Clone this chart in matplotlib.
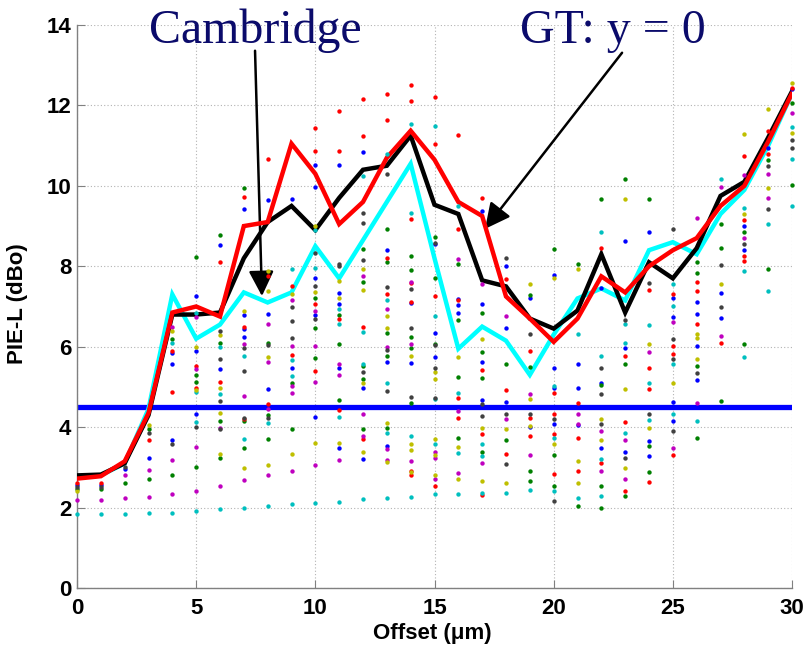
import numpy as np
import matplotlib
matplotlib.use("Agg")
import matplotlib.pyplot as plt
from matplotlib.font_manager import FontProperties

# Offsets (um) and the three summary curves
offset = list(range(31))
pie_black = [2.8, 2.82, 3.1, 4.3, 6.8, 6.8, 6.85, 8.2, 9.1, 9.5, 8.9, 9.7, 10.4, 10.5, 11.25, 9.53,
             9.3, 7.65, 7.5, 6.7, 6.45, 6.9, 8.3, 6.85, 8.1, 7.7, 8.45, 9.75, 10.1, 11.2, 12.35]
pie_red = [2.72, 2.78, 3.15, 4.35, 6.85, 7.0, 6.75, 9.0, 9.1, 11.05, 10.3, 9.05, 9.6, 10.7, 11.37, 10.65,
           9.6, 9.25, 7.25, 6.7, 6.12, 6.7, 7.75, 7.35, 8.0, 8.4, 8.7, 9.5, 10.0, 11.1, 12.3]
pie_cyan = [2.75, 2.8, 3.1, 4.45, 7.3, 6.2, 6.55, 7.35, 7.1, 7.35, 8.5, 7.7, 8.65, 9.6, 10.55, 8.2,
            5.95, 6.5, 6.15, 5.3, 6.3, 7.2, 7.45, 7.15, 8.4, 8.6, 8.3, 9.3, 9.9, 11.0, 12.3]
threshold = 4.5

# individual runs, grouped by plot colour: (offset, PIE-L)
pts_b = [(0, 2.55), (1, 2.55), (2, 2.95), (3, 3.23), (4, 5.85), (4, 5.57), (4, 3.68), (5, 7.25), (5, 5.9),
         (5, 4.33), (6, 8.53), (6, 5.45), (7, 9.42), (7, 6.79), (7, 6.44), (7, 6.24), (8, 9.65), (8, 6.81),
         (8, 4.95), (9, 9.68), (9, 5.48), (10, 10.52), (10, 9.98), (10, 7.7), (10, 6.8), (10, 4.26),
         (11, 10.52), (11, 7.34), (11, 7.05), (11, 5.48), (11, 3.47), (12, 10.85), (12, 4.98), (12, 3.2),
         (13, 8.41), (13, 5.62), (13, 3.53), (14, 7.08), (14, 5.6), (15, 8.56), (15, 6.34), (15, 5.75),
         (16, 7.19), (16, 7.04), (16, 6.84), (17, 9.38), (17, 7.06), (17, 5.62), (17, 4.68), (18, 8.01),
         (18, 6.47), (18, 4.63), (19, 7.21), (19, 4.0), (20, 7.79), (20, 5.48), (20, 4.98), (20, 4.08),
         (21, 5.57), (21, 4.98), (21, 4.05), (22, 7.46), (22, 5.1), (22, 3.48), (23, 8.63), (23, 5.97),
         (23, 3.38), (24, 8.86), (24, 3.66), (24, 3.28), (25, 7.21), (25, 6.74), (25, 4.63), (25, 4.15),
         (26, 7.11), (26, 6.81), (26, 6.02), (26, 5.17), (27, 7.34), (27, 6.72), (28, 9.0), (28, 8.4),
         (29, 10.95), (30, 12.4)]
pts_g = [(0, 2.45), (1, 2.45), (2, 2.6), (3, 3.95), (3, 2.7), (4, 6.2), (4, 2.8), (5, 8.24), (5, 5.3),
         (5, 5.12), (5, 3.0), (6, 8.78), (6, 6.1), (6, 4.15), (6, 3.24), (7, 9.95), (7, 4.15), (7, 3.47),
         (8, 6.1), (8, 4.3), (8, 3.7), (9, 5.1), (9, 3.95), (10, 7.2), (10, 6.47), (10, 5.72), (11, 6.8),
         (11, 6.07), (11, 4.68), (12, 8.43), (12, 7.61), (12, 5.52), (12, 5.2), (12, 3.96), (13, 8.93),
         (13, 8.11), (13, 6.34), (13, 5.77), (13, 3.98), (14, 8.26), (14, 7.91), (14, 6.24), (14, 5.97),
         (14, 4.6), (15, 8.73), (15, 7.71), (15, 6.07), (16, 8.06), (16, 6.67), (16, 5.25), (16, 3.73),
         (17, 6.84), (17, 5.87), (17, 5.22), (17, 3.38), (18, 5.57), (18, 3.68), (19, 7.29), (19, 5.5),
         (19, 2.91), (19, 2.66), (20, 8.43), (20, 3.31), (20, 2.54), (21, 8.06), (21, 2.04), (22, 9.68),
         (22, 5.05), (22, 2.54), (22, 2.0), (23, 10.17), (23, 5.57), (23, 2.29), (24, 9.68), (24, 3.53),
         (24, 2.89), (26, 8.11), (26, 7.84), (26, 5.52), (26, 3.73), (27, 9.05), (27, 8.46), (27, 4.65),
         (28, 8.85), (28, 6.07), (29, 10.65), (29, 7.94), (30, 12.06), (30, 10.02)]
pts_r = [(0, 2.6), (1, 2.6), (3, 3.68), (4, 5.9), (4, 4.88), (5, 5.52), (5, 4.98), (6, 8.1), (6, 5.13),
         (7, 9.73), (7, 6.5), (7, 4.2), (8, 10.67), (8, 7.75), (8, 4.58), (9, 7.5), (9, 5.8), (10, 11.44),
         (10, 10.87), (10, 7.05), (10, 5.4), (11, 11.87), (11, 10.87), (11, 6.7), (11, 4.43), (12, 12.16),
         (12, 11.24), (12, 6.49), (12, 3.7), (13, 12.29), (13, 11.64), (13, 8.21), (13, 7.31), (14, 12.51),
         (14, 12.11), (14, 9.18), (14, 7.58), (14, 7.11), (14, 2.91), (14, 2.81), (15, 12.21), (15, 11.04),
         (15, 7.26), (15, 2.54), (16, 11.27), (16, 8.93), (16, 7.15), (16, 4.73), (16, 4.23), (17, 9.7),
         (17, 5.42), (17, 3.83), (17, 2.31), (18, 7.69), (18, 4.93), (18, 3.33), (19, 5.9), (19, 4.23),
         (19, 3.78), (20, 4.85), (20, 4.33), (20, 3.83), (20, 2.84), (21, 4.6), (21, 3.73), (21, 2.91),
         (22, 8.46), (22, 3.11), (23, 5.77), (23, 4.13), (23, 2.41), (24, 7.41), (24, 5.48), (24, 4.95),
         (24, 2.64), (25, 7.31), (25, 6.02), (25, 5.82), (25, 3.31), (26, 7.61), (26, 7.39), (26, 6.57),
         (27, 6.1), (28, 10.75), (28, 9.15), (28, 8.25), (28, 8.13), (29, 11.37), (29, 10.8), (30, 12.44)]
pts_c = [(0, 1.85), (1, 1.85), (2, 1.85), (3, 1.87), (4, 6.1), (4, 1.87), (5, 6.85), (5, 4.88), (5, 4.13),
         (5, 1.92), (6, 6.0), (6, 4.82), (6, 1.96), (7, 5.77), (7, 3.7), (7, 2.0), (8, 4.1), (8, 2.04),
         (9, 7.94), (9, 5.67), (9, 5.27), (9, 2.09), (10, 8.9), (10, 7.96), (10, 2.11), (11, 6.95),
         (11, 6.57), (11, 4.25), (11, 2.14), (12, 10.25), (12, 6.37), (12, 5.57), (12, 2.21), (13, 10.8),
         (13, 7.16), (13, 5.1), (13, 3.86), (13, 2.24), (14, 11.54), (14, 9.33), (14, 3.78), (14, 2.26),
         (15, 11.49), (15, 6.77), (15, 4.7), (15, 3.58), (15, 2.34), (16, 9.5), (16, 4.85), (16, 3.36),
         (16, 2.34), (17, 3.58), (17, 3.28), (17, 2.36), (18, 2.36), (19, 2.44), (20, 5.02), (20, 3.73),
         (20, 2.41), (21, 6.32), (21, 2.24), (22, 8.86), (22, 5.77), (22, 3.21), (22, 2.29), (23, 6.57),
         (23, 6.1), (23, 3.86), (24, 6.54), (24, 5.1), (24, 4.18), (25, 7.56), (25, 7.01), (25, 5.57),
         (25, 4.33), (26, 4.15), (27, 10.17), (28, 9.45), (28, 7.89), (28, 5.75), (29, 9.05), (29, 7.39),
         (30, 11.47), (30, 10.67), (30, 9.5)]
pts_m = [(0, 2.2), (1, 2.2), (2, 2.8), (2, 2.23), (3, 2.93), (3, 2.27), (4, 6.5), (4, 3.18), (4, 2.33),
         (5, 6.75), (5, 5.45), (5, 3.5), (5, 2.42), (6, 3.98), (6, 2.54), (7, 6.07), (7, 4.78), (7, 2.68),
         (8, 6.57), (8, 5.62), (8, 4.45), (8, 2.8), (9, 7.15), (9, 6.02), (9, 5.02), (9, 4.85), (9, 2.91),
         (10, 6.9), (10, 6.02), (10, 5.13), (10, 3.06), (11, 5.57), (11, 5.3), (11, 3.18), (12, 7.76),
         (12, 4.33), (12, 3.78), (13, 6.94), (13, 5.99), (13, 3.46), (13, 3.18), (14, 7.61), (14, 6.07),
         (14, 3.16), (15, 3.38), (15, 3.24), (15, 2.71), (16, 8.18), (16, 4.4), (16, 2.86), (17, 7.56),
         (17, 3.11), (18, 6.77), (18, 4.2), (19, 4.83), (19, 3.31), (21, 4.33), (21, 4.08), (22, 3.91),
         (22, 2.91), (23, 3.68), (23, 2.71), (24, 5.87), (25, 6.62), (25, 3.48), (26, 9.2), (26, 4.6),
         (27, 9.98), (27, 6.27), (28, 10.27), (28, 8.7), (29, 10.3), (29, 9.7), (30, 11.82)]
pts_y = [(0, 2.4), (3, 4.05), (4, 6.4), (5, 6.0), (5, 4.92), (6, 6.3), (6, 4.98), (6, 4.36), (6, 3.33),
         (7, 6.9), (7, 2.98), (8, 7.88), (8, 7.38), (8, 5.75), (8, 3.06), (9, 7.3), (9, 3.34), (10, 9.0),
         (10, 7.35), (10, 3.6), (11, 7.64), (11, 7.2), (11, 3.6), (12, 7.94), (12, 7.41), (12, 5.1),
         (12, 3.38), (13, 6.77), (13, 6.47), (13, 4.1), (13, 3.13), (14, 5.77), (14, 3.58), (14, 3.43),
         (14, 2.88), (15, 5.37), (15, 5.2), (15, 3.7), (15, 3.3), (15, 2.81), (16, 5.75), (16, 3.51),
         (16, 2.71), (17, 6.19), (17, 3.98), (17, 2.66), (18, 3.96), (18, 2.61), (19, 7.56), (19, 4.7),
         (19, 4.03), (20, 7.71), (20, 3.58), (21, 7.94), (21, 3.16), (21, 2.61), (22, 4.2), (22, 3.68),
         (23, 9.68), (23, 4.95), (23, 2.98), (24, 6.07), (24, 3.98), (25, 5.1), (26, 6.32), (26, 6.22),
         (26, 5.7), (27, 7.56), (28, 11.29), (28, 9.3), (29, 11.92), (29, 9.95), (30, 12.56), (30, 11.32)]
pts_k = [(0, 2.5), (1, 2.5), (2, 3.0), (3, 3.85), (4, 3.58), (5, 4.0), (6, 6.4), (6, 5.7), (6, 4.65),
         (6, 3.95), (7, 5.97), (7, 5.4), (7, 4.23), (8, 6.05), (8, 4.23), (9, 7.0), (9, 6.64), (9, 6.22),
         (10, 8.33), (10, 7.5), (10, 6.7), (11, 8.06), (11, 8.0), (12, 9.33), (12, 9.08), (12, 8.16),
         (12, 5.37), (13, 10.3), (13, 7.49), (13, 5.92), (13, 4.9), (14, 7.44), (14, 6.47), (14, 4.75),
         (15, 8.58), (15, 6.05), (15, 5.48), (15, 4.73), (17, 4.58), (17, 4.28), (18, 8.21), (18, 4.33),
         (18, 3.08), (19, 6.32), (19, 4.33), (20, 4.2), (20, 2.16), (22, 5.48), (22, 4.83), (22, 4.08),
         (23, 6.67), (23, 3.24), (24, 7.59), (24, 4.33), (25, 8.93), (25, 6.19), (25, 5.7), (25, 3.91),
         (26, 5.35), (27, 8.03), (27, 6.99), (28, 8.55), (29, 10.5), (29, 9.43), (30, 11.14), (30, 10.95)]

# old-style MATLAB line colour order
dot_sets = [
    (pts_b, (0, 0, 1)),
    (pts_g, (0, 0.5, 0)),
    (pts_r, (1, 0, 0)),
    (pts_c, (0, 0.75, 0.75)),
    (pts_m, (0.75, 0, 0.75)),
    (pts_y, (0.75, 0.75, 0)),
    (pts_k, (0.25, 0.25, 0.25)),
]

fig = plt.figure(figsize=(8.08, 6.52), dpi=100)
ax = fig.add_axes([77 / 808, 1 - 588 / 652, 715 / 808, 563 / 652])

ax.axhline(threshold, color=(0, 0, 1), lw=3.8, zorder=2)
ax.plot(offset, pie_cyan, color=(0, 1, 1), lw=3.2, zorder=3, solid_joinstyle='miter')
ax.plot(offset, pie_black, color='black', lw=3.2, zorder=4, solid_joinstyle='miter')
ax.plot(offset, pie_red, color=(1, 0, 0), lw=3.2, zorder=5, solid_joinstyle='miter')

for pts, col in dot_sets:
    xs = [p[0] for p in pts]
    ys = [p[1] for p in pts]
    ax.scatter(xs, ys, s=10, color=col, linewidths=0, zorder=6, clip_on=False)

ax.set_xlim(0, 30)
ax.set_ylim(0, 14)
ax.set_xticks(np.arange(0, 31, 5))
ax.set_yticks(np.arange(0, 15, 2))
ax.grid(True, linestyle=(0, (1, 2)), color='0.7', lw=0.8)
ax.set_axisbelow(True)

for side in ('top', 'right'):
    ax.spines[side].set_visible(False)
for side in ('left', 'bottom'):
    ax.spines[side].set_color('0.5')
    ax.spines[side].set_linewidth(1.0)

tick_font = FontProperties(family='Liberation Sans', weight='bold', size=16)
ax.tick_params(direction='in', length=6, color='0.5', pad=4)
ax.tick_params(axis='x', pad=7)
for lab in ax.get_xticklabels() + ax.get_yticklabels():
    lab.set_fontproperties(tick_font)

ax.set_xlabel('Offset (\u03bcm)', family='Liberation Sans', weight='bold', size=16)
ax.xaxis.set_label_coords(0.497, -0.063)
ax.set_ylabel('PIE-L (dBo)', family='Liberation Sans', weight='bold', size=16)
ax.yaxis.set_label_coords(-0.068, 0.505)

# callouts
navy = '#0b0b6b'
ann_font = dict(family='Liberation Serif', size=34.5, color=navy, ha='center', va='center')
ax.text(7.47, 13.85, 'Cambridge', **ann_font)
ax.text(22.5, 13.85, 'GT: y = 0', **ann_font)
arrow = dict(arrowstyle='-|>,head_length=1.1,head_width=0.55', mutation_scale=14,
             lw=1.8, color='black', shrinkA=0, shrinkB=0)
ax.annotate('', xy=(7.76, 7.26), xytext=(7.47, 13.36), arrowprops=arrow, annotation_clip=False)
ax.annotate('', xy=(17.12, 8.93), xytext=(22.87, 13.31), arrowprops=arrow, annotation_clip=False)

fig.savefig('out.png', dpi=100)
